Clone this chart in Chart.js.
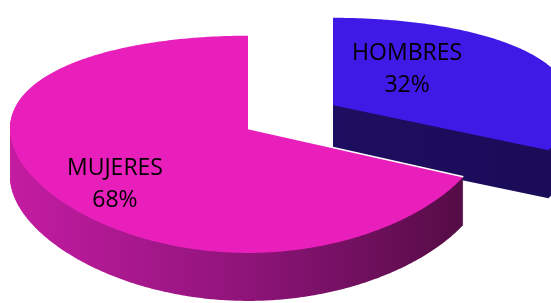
<!DOCTYPE html>
<html>
<head>
<meta charset="utf-8">
<script src="https://cdn.jsdelivr.net/npm/chart.js@4.4.1/dist/chart.umd.min.js"></script>
<style>
  html, body { margin: 0; padding: 0; background: #ffffff; }
  canvas { display: block; }
</style>
</head>
<body>
<canvas id="pieChart" width="551" height="303"></canvas>
<script>
// Data
const categories = ['HOMBRES', 'MUJERES'];
const values = [32, 68];

// Look of the fake 3D pie
const topColors = ['#3f1ae6', '#e91fbc'];
const sideStops = [
    [[0, '#200f68'], [1, '#1a0c58']],
    [[0, '#c41ca2'], [0.5, '#8e1479'], [1, '#4f0b40']]
];
const explode = [56, 44.8];      // pull-out per slice, in disc units
const origin = { x: 285.8, y: 118 };
const squash = 0.434;            // vertical squash of the disc
const persp = 0.0006;            // near edge drawn larger than far edge
const depth = 48;                // thickness in screen px
const labelOffset = [[74, -36], [-133, 56]];

const pie3d = {
    id: 'pie3d',
    beforeDatasetsDraw(chart) {
        const ctx = chart.ctx;
        const arcs = chart.getDatasetMeta(0).data;
        const total = values.reduce((a, b) => a + b, 0);

        // disc point (px, py) of slice i -> screen point
        function proj(arc, i, px, py, z) {
            const mid = (arc.startAngle + arc.endAngle) / 2;
            const u = px - arc.x + Math.cos(mid) * explode[i];
            const v = py - arc.y + Math.sin(mid) * explode[i];
            return [origin.x + u, origin.y + squash * v / (1 - persp * v) + z];
        }

        function slicePath(arc, i, z) {
            const r = arc.outerRadius;
            const steps = Math.max(8, Math.ceil((arc.endAngle - arc.startAngle) / 0.01));
            ctx.beginPath();
            let p = proj(arc, i, arc.x, arc.y, z);
            ctx.moveTo(p[0], p[1]);
            for (let s = 0; s <= steps; s++) {
                const a = arc.startAngle + (arc.endAngle - arc.startAngle) * s / steps;
                p = proj(arc, i, arc.x + Math.cos(a) * r, arc.y + Math.sin(a) * r, z);
                ctx.lineTo(p[0], p[1]);
            }
            ctx.closePath();
        }

        // back slice first, front slice last
        arcs.forEach((arc, i) => {
            const c = proj(arc, i, arc.x, arc.y, 0);
            const g = ctx.createLinearGradient(c[0] - arc.outerRadius, 0, c[0] + arc.outerRadius, 0);
            sideStops[i].forEach(s => g.addColorStop(s[0], s[1]));
            ctx.fillStyle = g;
            for (let k = depth; k >= 1; k--) {
                slicePath(arc, i, k);
                ctx.fill();
            }
            slicePath(arc, i, 0);
            ctx.fillStyle = topColors[i];
            ctx.fill();
            if (i === 1) {
                const r = arc.outerRadius;
                const a = proj(arc, i, arc.x + Math.cos(arc.startAngle) * r, arc.y + Math.sin(arc.startAngle) * r, 0);
                ctx.beginPath();
                ctx.moveTo(a[0], a[1]);
                ctx.lineTo(c[0], c[1]);
                ctx.strokeStyle = '#ffffff';
                ctx.lineWidth = 1.5;
                ctx.stroke();
            }
        });

        // labels
        ctx.save();
        ctx.fillStyle = '#000000';
        ctx.font = "23px 'Open Sans', sans-serif";
        ctx.textAlign = 'center';
        ctx.textBaseline = 'middle';
        arcs.forEach((arc, i) => {
            const c = proj(arc, i, arc.x, arc.y, 0);
            const cx = c[0] + labelOffset[i][0];
            const cy = c[1] + labelOffset[i][1];
            const pct = Math.round(values[i] / total * 100) + '%';
            ctx.fillText(categories[i], cx, cy - 16);
            ctx.fillText(pct, cx, cy + 16);
        });
        ctx.restore();
        return false;
    }
};

const ctx = document.getElementById('pieChart').getContext('2d');
const pieChart = new Chart(ctx, {
    type: 'pie',
    data: {
        labels: categories,
        datasets: [{
            data: values,
            backgroundColor: topColors,
            borderWidth: 0
        }]
    },
    options: {
        responsive: false,
        animation: false,
        radius: 238,
        layout: { padding: 0 },
        plugins: {
            legend: { display: false },
            tooltip: { enabled: false }
        }
    },
    plugins: [pie3d]
});
</script>
</body>
</html>
